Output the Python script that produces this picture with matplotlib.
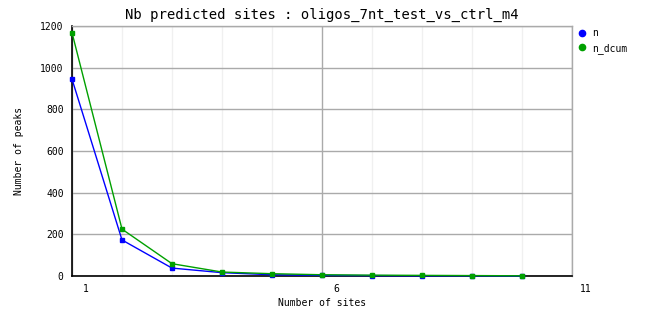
import matplotlib
matplotlib.use("Agg")
import matplotlib.pyplot as plt
import matplotlib.transforms as mtransforms
from matplotlib.lines import Line2D

title = "Nb predicted sites : oligos_7nt_test_vs_ctrl_m4"
sites = [1, 2, 3, 4, 5, 6, 7, 8, 9, 10]
n_vals = [945, 173, 38, 16, 6, 3, 2, 1, 1, 0]
n_dcum_vals = [1168, 225, 59, 19, 11, 6, 4, 3, 2, 1]
series_names = ["n", "n_dcum"]
series_colors = ["#0000ff", "#00a000"]
xticks = [1, 6, 11]
yticks = [0, 200, 400, 600, 800, 1000, 1200]

plt.rcParams['font.family'] = ['DejaVu Sans Mono']
fig = plt.figure(figsize=(6.62, 3.28), dpi=100)
ax = fig.add_axes([72/662, 52/328, 500/662, 250/328])

for vals, c in zip([n_vals, n_dcum_vals], series_colors):
    ax.plot(sites, vals, color=c, lw=1, marker='s', ms=2.2, mec=c, mfc=c, zorder=3, clip_on=False)

ax.set_xlim(1, 11)
ax.set_ylim(0, 1200)
ax.set_xticks(xticks)
ax.set_xticks(range(1, 12), minor=True)
ax.set_yticks(yticks)
ax.grid(True, which='minor', axis='x', color='#f0f0f0', lw=1)
ax.grid(True, which='major', axis='x', color='#aaaaaa', lw=1)
ax.grid(True, which='major', axis='y', color='#aaaaaa', lw=1)
ax.set_axisbelow(True)
ax.tick_params(which='both', length=0, labelsize=7, pad=6)
offset = mtransforms.ScaledTranslation(14/100, 0, fig.dpi_scale_trans)
for lab in ax.get_xticklabels():
    lab.set_transform(lab.get_transform() + offset)

for s in ['left', 'bottom']:
    ax.spines[s].set_color('black')
    ax.spines[s].set_linewidth(1.2)
for s in ['top', 'right']:
    ax.spines[s].set_color('#aaaaaa')
    ax.spines[s].set_linewidth(1)

ax.set_title(title, fontsize=10, pad=5)
ax.set_xlabel("Number of sites", fontsize=7, labelpad=3)
ax.set_ylabel("Number of peaks", fontsize=7, labelpad=12)

handles = [Line2D([], [], ls='none', marker='o', ms=4.5, color=c) for c in series_colors]
ax.legend(handles, series_names, loc='upper left', bbox_to_anchor=(577/662, 300/328),
          bbox_transform=fig.transFigure, frameon=False, fontsize=7, handletextpad=0.6,
          labelspacing=0.5, handlelength=1, borderaxespad=0, borderpad=0)

fig.savefig("out.png", dpi=100)
